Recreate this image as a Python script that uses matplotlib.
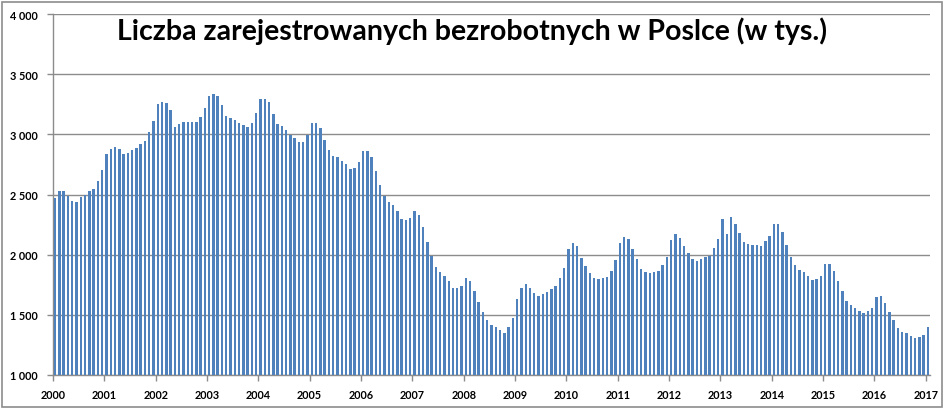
import matplotlib
matplotlib.use("Agg")
import matplotlib.pyplot as plt
from matplotlib.patches import Rectangle

title = "Liczba zarejestrowanych bezrobotnych w Poslce (w tys.)"

years = [2000, 2001, 2002, 2003, 2004, 2005, 2006, 2007, 2008,
         2009, 2010, 2011, 2012, 2013, 2014, 2015, 2016, 2017]

# monthly values (thousands), Jan 2000 .. Jan 2017
v2000 = [2470, 2525, 2530, 2485, 2443, 2435, 2478, 2498, 2530, 2546, 2611, 2700]
v2001 = [2833, 2877, 2893, 2877, 2838, 2846, 2866, 2888, 2917, 2942, 3020, 3113]
v2002 = [3250, 3270, 3258, 3200, 3061, 3088, 3103, 3104, 3104, 3103, 3147, 3215]
v2003 = [3318, 3336, 3318, 3245, 3153, 3133, 3119, 3098, 3075, 3060, 3095, 3177]
v2004 = [3294, 3294, 3266, 3170, 3088, 3068, 3038, 2998, 2970, 2935, 2940, 2998]
v2005 = [3094, 3094, 3052, 2955, 2866, 2824, 2808, 2778, 2754, 2713, 2720, 2771]
v2006 = [2864, 2859, 2815, 2697, 2580, 2484, 2441, 2411, 2361, 2300, 2289, 2308]
v2007 = [2360, 2328, 2226, 2102, 1985, 1898, 1853, 1826, 1780, 1720, 1720, 1743]
v2008 = [1809, 1780, 1699, 1603, 1523, 1457, 1418, 1403, 1376, 1351, 1397, 1470]
v2009 = [1634, 1721, 1758, 1721, 1685, 1655, 1677, 1692, 1713, 1743, 1809, 1891]
v2010 = [2050, 2100, 2072, 1972, 1906, 1846, 1809, 1801, 1810, 1817, 1862, 1957]
v2011 = [2097, 2144, 2130, 2044, 1961, 1881, 1859, 1850, 1859, 1864, 1910, 1977]
v2012 = [2118, 2168, 2139, 2071, 2014, 1963, 1949, 1963, 1977, 1993, 2057, 2131]
v2013 = [2296, 2169, 2316, 2258, 2178, 2108, 2089, 2081, 2081, 2073, 2117, 2156]
v2014 = [2258, 2258, 2186, 2082, 1983, 1912, 1874, 1852, 1823, 1787, 1799, 1823]
v2015 = [1920, 1920, 1862, 1779, 1699, 1616, 1580, 1555, 1536, 1517, 1530, 1558]
v2016 = [1649, 1655, 1597, 1522, 1459, 1390, 1359, 1345, 1323, 1309, 1318, 1331]
v2017 = [1398]

values = (v2000 + v2001 + v2002 + v2003 + v2004 + v2005 + v2006 + v2007 + v2008
          + v2009 + v2010 + v2011 + v2012 + v2013 + v2014 + v2015 + v2016 + v2017)

y_ticks = [1000, 1500, 2000, 2500, 3000, 3500, 4000]
y_labels = ["1 000", "1 500", "2 000", "2 500", "3 000", "3 500", "4 000"]

fig = plt.figure(figsize=(9.45, 4.10), dpi=100)
fig.patch.set_facecolor("white")
fig.patches.append(Rectangle((2 / 945, 2 / 410), 940 / 945, 405 / 410,
                             transform=fig.transFigure, fill=False,
                             edgecolor="#8C8C8C", linewidth=1.2))

ax = fig.add_axes([53 / 945, 34 / 410, 877 / 945, 361 / 410])
x = list(range(len(values)))
ax.bar(x, [v - 1000 for v in values], bottom=1000, width=0.57,
       color="#4F81BD", edgecolor="none", zorder=3)

ax.set_xlim(-0.5, len(values) - 0.5)
ax.set_ylim(1000, 4000)
ax.set_yticks(y_ticks)
ax.set_yticklabels(y_labels)
ax.set_xticks([12 * i - 0.5 for i in range(len(years))])
ax.set_xticklabels([str(y) for y in years])

ax.yaxis.grid(True, color="#8C8C8C", linewidth=1.0, zorder=0)
ax.set_axisbelow(True)
for s in ["top", "right"]:
    ax.spines[s].set_visible(False)
for s in ["left", "bottom"]:
    ax.spines[s].set_color("#8C8C8C")
    ax.spines[s].set_linewidth(1.0)

ax.tick_params(axis="both", colors="#8C8C8C", length=4, width=1.0,
               labelcolor="black", labelsize=7.8)
ax.tick_params(axis="y", pad=7)
ax.tick_params(axis="x", pad=6)
for lab in ax.get_xticklabels() + ax.get_yticklabels():
    lab.set_fontweight("bold")
    lab.set_fontfamily("Lato")

fig.text(472 / 945, 1 - 31 / 410, title, ha="center", va="center",
         fontsize=20.5, fontweight="bold", family="Lato", color="black")

fig.savefig("out.png", dpi=100, facecolor="white")
